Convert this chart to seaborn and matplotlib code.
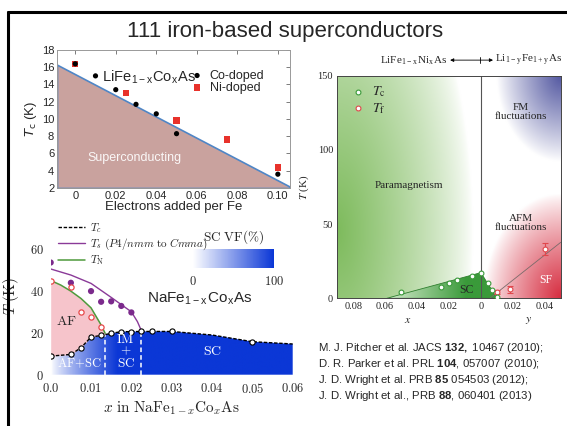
import numpy as np
import matplotlib
matplotlib.use("Agg")
import matplotlib.pyplot as plt
from matplotlib.colors import LinearSegmentedColormap, Normalize, to_rgb
from matplotlib.cm import ScalarMappable
from matplotlib.patches import Polygon
from matplotlib.lines import Line2D
import seaborn as sns

# ---------------- LiFe1-xCoxAs (Co / Ni doping) ----------------
co_x = [0.0, 0.01, 0.02, 0.03, 0.04, 0.05, 0.10]
co_tc = [16.4, 15.0, 13.4, 11.7, 10.6, 8.3, 3.6]
ni_x = [0.0, 0.025, 0.05, 0.075, 0.10]
ni_tc = [16.4, 13.0, 9.8, 7.6, 4.4]
sc_edge_x = [-0.009, 0.106]
sc_edge_tc = [16.3, 2.15]
li_xticks = [0.0, 0.02, 0.04, 0.06, 0.08, 0.10]
li_xlabels = ["0", "0.02", "0.04", "0.06", "0.08", "0.10"]
li_yticks = [2, 4, 6, 8, 10, 12, 14, 16, 18]

# ---------------- NaFe1-xCoxAs phase diagram ----------------
na_tc_x = [0.0, 0.005, 0.0075, 0.01, 0.0125, 0.015, 0.0175, 0.02, 0.0225, 0.025, 0.03, 0.05]
na_tc = [8.9, 9.7, 12.9, 18.0, 18.8, 19.8, 20.6, 20.6, 20.7, 20.7, 20.7, 15.8]
na_tc_line_x = [0.0, 0.005, 0.0075, 0.01, 0.0125, 0.015, 0.0175, 0.02, 0.0225, 0.025, 0.03, 0.04, 0.05, 0.06]
na_tc_line = [8.9, 9.7, 12.9, 18.0, 18.8, 19.8, 20.6, 20.6, 20.7, 20.7, 20.7, 19.0, 15.8, 14.7]
na_ts_x = [0.0, 0.005, 0.01, 0.0125, 0.015, 0.0175, 0.02]
na_ts = [53.7, 44.0, 40.0, 34.9, 35.1, 32.9, 29.8]
na_ts_line_x = [0.0, 0.005, 0.01, 0.015, 0.02, 0.0215, 0.0225]
na_ts_line = [50.6, 47.7, 43.7, 37.0, 30.1, 25.4, 21.0]
na_tn_x = [0.0, 0.005, 0.0075, 0.01, 0.0125]
na_tn = [44.8, 41.8, 30.1, 27.8, 22.6]
na_tn_line_x = [0.0, 0.0025, 0.005, 0.0075, 0.01, 0.0125, 0.0135]
na_tn_line = [45.1, 42.9, 40.0, 36.5, 32.0, 23.8, 19.8]
phase_bounds = [0.0135, 0.0225]
na_xticks = [0.0, 0.01, 0.02, 0.03, 0.04, 0.05, 0.06]
na_xlabels = ["0.0", "0.01", "0.02", "0.03", "0.04", "0.05", "0.06"]
na_yticks = [0, 20, 40, 60]

# ---------------- LiFe1-xNixAs / Li1-yFe1+yAs ----------------
# negative u = Ni content x, positive u = Li deficiency y
lf_tc_u = [-0.050, -0.025, -0.020, -0.015, -0.0053, 0.0, 0.0042, 0.0069, 0.010]
lf_tc = [4.0, 7.8, 10.0, 12.3, 15.2, 17.3, 10.0, 5.6, 1.0]
lf_tf_u = [0.010, 0.018, 0.040]
lf_tf = [4.2, 6.0, 33.2]
lf_tf_err = [1.5, 2.5, 4.0]
sc_dome_u = [-0.059, 0.0, 0.0042, 0.0069, 0.010]
sc_dome_t = [0.0, 17.3, 10.0, 5.6, 0.0]
sf_line_u = [0.0056, 0.050]
sf_line_t = [0.0, 37.7]
lf_xticks = [-0.08, -0.06, -0.04, -0.02, 0.0, 0.02, 0.04]
lf_xlabels = ["0.08", "0.06", "0.04", "0.02", "0", "0.02", "0.04"]
lf_yticks = [0, 50, 100, 150]

references = [
    r"M. J. Pitcher et al. JACS $\mathbf{132,}$ 10467 (2010);",
    r"D. R. Parker et al. PRL $\mathbf{104}$, 057007 (2010);",
    r"J. D. Wright et al. PRB $\mathbf{85}$ 054503 (2012);",
    r"J. D. Wright et al., PRB $\mathbf{88}$, 060401 (2013)",
]

sns.set_style("white")
plt.rcParams["font.family"] = ["Liberation Sans", "DejaVu Sans"]
plt.rcParams["mathtext.fontset"] = "cm"
plt.rcParams["mathtext.bf"] = "Liberation Sans:bold"
plt.rcParams["mathtext.rm"] = "Liberation Sans"

W, H = 567, 426
fig = plt.figure(figsize=(W / 100, H / 100), dpi=100)


def axes_px(l, t, r, b):
    return fig.add_axes([l / W, 1 - b / H, (r - l) / W, (b - t) / H])


# slide frame and title
fig.add_artist(Line2D([8 / W, 1.0], [1 - 12 / H, 1 - 12 / H], color="black", lw=2.2))
fig.add_artist(Line2D([8 / W, 8 / W], [0, 1 - 12 / H], color="black", lw=2.2))
fig.text(285 / W, 1 - 31 / H, "111 iron-based superconductors", ha="center", va="center", fontsize=16)

# ======================= top-left panel =======================
ax1 = axes_px(57, 50, 290, 188)
ax1.fill_between(sc_edge_x, 2, sc_edge_tc, facecolor="#c9a29e", edgecolor="#4f86c6", lw=1.2, zorder=1)
sns.scatterplot(x=ni_x, y=ni_tc, ax=ax1, marker="s", color="#e8322b", s=22, edgecolor="none",
                zorder=3, label="Ni-doped")
sns.scatterplot(x=co_x, y=co_tc, ax=ax1, marker="o", color="black", s=14, edgecolor="none",
                zorder=4, label="Co-doped")
h, l = ax1.get_legend_handles_labels()
ax1.legend(h[::-1], l[::-1], loc="upper left", bbox_to_anchor=(0.51, 0.92), frameon=False,
           fontsize=9, handletextpad=0.0, labelspacing=0.0, borderpad=0.2, markerscale=1.0)
ax1.set_xlim(sc_edge_x[0], sc_edge_x[1])
ax1.set_ylim(2, 18)
ax1.set_xticks(li_xticks, li_xlabels)
ax1.set_yticks(li_yticks)
ax1.tick_params(direction="in", length=3, width=0.6, top=True, right=True, labelsize=8, pad=2,
                color="#666666")
for s in ax1.spines.values():
    s.set_color("#999999")
    s.set_linewidth(0.7)
ax1.set_xlabel("Electrons added per Fe", fontsize=9.5, labelpad=0)
ax1.set_ylabel(r"$T_\mathrm{c}$ (K)", fontsize=9.5, labelpad=2, math_fontfamily="dejavusans")
ax1.text(0.029, 5.5, "Superconducting", color="white", fontsize=9, ha="center", va="center", alpha=0.92)
ax1.text(0.0365, 14.8, r"LiFe$_\mathregular{1-x}$Co$_\mathregular{x}$As", fontsize=10.5,
         ha="center", va="center")

# ======================= bottom-left panel =======================
ax2 = axes_px(50.7, 218, 292.7, 374.7)
blue = "#0b37d6"
blue_cmap = LinearSegmentedColormap.from_list("scvf", ["#ffffff", blue])
gx = np.linspace(0, 0.06, 400)
shade = np.clip(gx / 0.0165, 0, 1) ** 0.8
im = ax2.imshow(shade[None, :], extent=(0, 0.06, 0, 25), origin="lower", aspect="auto",
                cmap=blue_cmap, vmin=0, vmax=1, zorder=1, interpolation="bilinear")
sc_poly = Polygon(list(zip(na_tc_line_x, na_tc_line)) + [(0.06, 0), (0.0, 0)], closed=True,
                  facecolor="none", edgecolor="none", transform=ax2.transData)
ax2.add_patch(sc_poly)
im.set_clip_path(sc_poly)

tc_at_tn = np.interp(na_tn_line_x, na_tc_line_x, na_tc_line)
ax2.fill_between(na_tn_line_x, tc_at_tn, na_tn_line, color="#f6c4cb", lw=0, zorder=1)

bound_tc = np.interp(phase_bounds, na_tc_line_x, na_tc_line)
ax2.vlines(phase_bounds, 0, bound_tc, colors="white", linestyles=(0, (3, 2)), lw=1.1, zorder=2)

sns.lineplot(x=na_tc_line_x, y=na_tc_line, ax=ax2, color="black", lw=1.0, linestyle=(0, (2.5, 1.2)),
             sort=False, estimator=None, zorder=3, label=r"$T_c$")
sns.lineplot(x=na_ts_line_x, y=na_ts_line, ax=ax2, color="#8a3a98", lw=1.0, sort=False,
             estimator=None, zorder=3, label=r"$T_s\ (P4/nmm\ \mathrm{to}\ Cmma)$")
sns.lineplot(x=na_tn_line_x, y=na_tn_line, ax=ax2, color="#4e9a3c", lw=1.1, sort=False,
             estimator=None, zorder=3, label=r"$T_\mathrm{N}$")
sns.scatterplot(x=na_ts_x, y=na_ts, ax=ax2, color="#7b2a8c", s=20, edgecolor="none", zorder=4)
sns.scatterplot(x=na_tn_x, y=na_tn, ax=ax2, color="white", s=14, edgecolor="#e8484a",
                linewidth=0.9, zorder=4)
sns.scatterplot(x=na_tc_x, y=na_tc, ax=ax2, color="white", s=14, edgecolor="black",
                linewidth=0.8, zorder=5)
ax2.legend(loc="upper left", bbox_to_anchor=(0.0, 1.03), frameon=False, fontsize=8,
           handlelength=2.4, labelspacing=0.15, borderpad=0.2, handletextpad=0.4)

ax2.text(0.004, 25.5, r"$\mathrm{AF}$", fontsize=10, ha="center", va="center", zorder=6)
ax2.text(0.0072, 5.6, r"$\mathrm{AF{+}SC}$", fontsize=9, color="white", ha="center", va="center", zorder=6)
ax2.text(0.0186, 11.2, r"$\mathrm{IM}$" + "\n" + r"$+$" + "\n" + r"$\mathrm{SC}$", fontsize=9.5,
         color="white", ha="center", va="center", linespacing=0.95, zorder=6)
ax2.text(0.040, 11.3, r"$\mathrm{SC}$", fontsize=10, color="white", ha="center", va="center", zorder=6)
ax2.text(0.037, 36.2, r"NaFe$_\mathregular{1-x}$Co$_\mathregular{x}$As", fontsize=11,
         ha="center", va="center", zorder=6)

cax = ax2.inset_axes([0.0352, 51, 0.0201, 9], transform=ax2.transData)
cb = fig.colorbar(ScalarMappable(norm=Normalize(0, 100), cmap=blue_cmap), cax=cax, orientation="horizontal")
cb.outline.set_visible(False)
cb.set_ticks([0, 100], labels=[r"$0$", r"$100$"])
cax.tick_params(length=0, labelsize=9, pad=5)
cax.set_title(r"$\mathrm{SC\ VF(\%)}$", fontsize=9.5, pad=6)

ax2.set_xlim(0, 0.06)
ax2.set_ylim(0, 75)
ax2.set_xticks(na_xticks, ["$" + t + "$" for t in na_xlabels])
ax2.set_yticks(na_yticks, ["$" + str(t) + "$" for t in na_yticks])
ax2.tick_params(length=0, labelsize=9, pad=5)
for s in ax2.spines.values():
    s.set_visible(False)
ax2.set_xlabel(r"$x\ \mathrm{in\ NaFe}_{1-x}\mathrm{Co}_x\mathrm{As}$", fontsize=11, labelpad=3)
ax2.set_ylabel(r"$T\ \mathrm{(K)}$", fontsize=11, labelpad=6)

# ======================= right panel =======================
ax3 = axes_px(337.3, 75.7, 560.7, 298.3)
uu = np.linspace(-0.09, 0.05, 561)
tt = np.linspace(0, 150, 301)
U, T = np.meshgrid(uu, tt)
bg = np.ones(U.shape + (3,))


def layer(img, color, alpha):
    c = np.array(to_rgb(color))
    return img * (1 - alpha[..., None]) + c * alpha[..., None]


d_green = np.sqrt(((U + 0.09) / 0.085) ** 2 + ((T - 45) / 220) ** 2)
bg = layer(bg, "#6fb34a", np.clip(1 - d_green, 0, 1) ** 0.75 * 0.9 * (U < 0))
d_blue = np.sqrt(((0.05 - U) / 0.04) ** 2 + ((150 - T) / 58) ** 2)
bg = layer(bg, "#4a4f9c", np.clip(1 - d_blue, 0, 1) ** 0.9 * 0.95 * (U > 0))
d_red = np.sqrt(((0.05 - U) / 0.048) ** 2 + (T / 70) ** 2)
bg = layer(bg, "#d42236", np.clip(1 - d_red, 0, 1) ** 0.85 * 0.95 * (U > 0))
ax3.imshow(bg, extent=(-0.09, 0.05, 0, 150), origin="lower", aspect="auto", zorder=0,
           interpolation="bilinear")

green_cmap = LinearSegmentedColormap.from_list("scdome", ["#d8ecd0", "#3a9a3a"])
dome_shade = np.clip((uu + 0.059) / 0.05, 0, 1)
dome_im = ax3.imshow(dome_shade[None, :], extent=(-0.09, 0.05, 0, 20), origin="lower", aspect="auto",
                     cmap=green_cmap, vmin=0, vmax=1, zorder=1, interpolation="bilinear")
dome = Polygon(list(zip(sc_dome_u, sc_dome_t)), closed=True, facecolor="none", edgecolor="#2f7f2f",
               lw=0.6, transform=ax3.transData, zorder=2)
ax3.add_patch(dome)
dome_im.set_clip_path(dome)

ax3.axvline(0, color="#555555", lw=0.8, zorder=2)
sns.lineplot(x=sf_line_u, y=sf_line_t, ax=ax3, color="#7a6a6a", lw=0.6, sort=False, estimator=None,
             zorder=2)
ax3.errorbar(lf_tf_u, lf_tf, yerr=lf_tf_err, fmt="none", ecolor="#e0474c", elinewidth=0.8,
             capsize=2, capthick=0.8, zorder=3)
sns.scatterplot(x=lf_tf_u, y=lf_tf, ax=ax3, color="white", edgecolor="#e0474c", s=12, linewidth=0.8,
                zorder=4, label=r"$T_\mathrm{f}$")
sns.scatterplot(x=lf_tc_u, y=lf_tc, ax=ax3, color="white", edgecolor="#3a9a3a", s=12, linewidth=0.8,
                zorder=4, label=r"$T_\mathrm{c}$")
h, l = ax3.get_legend_handles_labels()
leg = ax3.legend(h[::-1], l[::-1], loc="upper left", bbox_to_anchor=(-0.02, 1.01), frameon=False,
                 prop={"family": "Liberation Serif", "size": 10}, handletextpad=0.0, labelspacing=0.1,
                 borderpad=0.3)
for t in leg.get_texts():
    t.set_math_fontfamily("stix")

serif = "Liberation Serif"
ax3.text(-0.045, 75.7, "Paramagnetism", fontsize=8, family=serif, ha="center", va="center")
ax3.text(0.0248, 125.5, "FM\nfluctuations", fontsize=8, family=serif, ha="center", va="center",
         linespacing=1.0)
ax3.text(0.0248, 51, "AFM\nfluctuations", fontsize=8, family=serif, ha="center", va="center",
         linespacing=1.0)
ax3.text(-0.0088, 5.6, "SC", fontsize=8.5, family=serif, ha="center", va="center", zorder=5)
ax3.text(0.0406, 12.3, "SF", fontsize=8.5, family=serif, color="white", ha="center", va="center", zorder=5)

ax3.set_xlim(-0.09, 0.05)
ax3.set_ylim(0, 150)
ax3.set_xticks(lf_xticks, lf_xlabels)
ax3.set_yticks(lf_yticks)
ax3.tick_params(direction="in", length=2.5, width=0.6, labelsize=7.5, labelfontfamily=serif, pad=3)
for s in ax3.spines.values():
    s.set_color("#444444")
    s.set_linewidth(0.7)
ax3.set_ylabel("$T$ (K)", fontsize=8, family=serif, labelpad=5, math_fontfamily="stix")
ax3.text(0.316, -0.0975, "$x$", transform=ax3.transAxes, fontsize=8.5, ha="center", va="center",
         math_fontfamily="stix")
ax3.text(0.857, -0.0975, "$y$", transform=ax3.transAxes, fontsize=8.5, ha="center", va="center",
         math_fontfamily="stix")

# composition arrow above the right panel
ax3.annotate("", xy=(0.697, 1.07), xytext=(0.505, 1.07), xycoords="axes fraction",
             arrowprops=dict(arrowstyle="<|-|>", color="black", lw=0.6, mutation_scale=5,
                             shrinkA=0, shrinkB=0))
ax3.add_line(Line2D([0.639, 0.639], [1.055, 1.085], transform=ax3.transAxes, color="black",
                    lw=0.6, clip_on=False))
ax3.text(0.495, 1.07, r"LiFe$_\mathregular{1-x}$Ni$_\mathregular{x}$As", transform=ax3.transAxes,
         fontsize=8, family=serif, ha="right", va="center")
ax3.text(0.707, 1.07, r"Li$_\mathregular{1-y}$Fe$_\mathregular{1+y}$As", transform=ax3.transAxes,
         fontsize=8, family=serif, ha="left", va="center")

# references
for i, ref in enumerate(references):
    fig.text(318 / W, 1 - (348 + 16 * i) / H, ref, fontsize=8.2, ha="left", va="center",
             math_fontfamily="custom")

fig.savefig("out.png", dpi=100)
